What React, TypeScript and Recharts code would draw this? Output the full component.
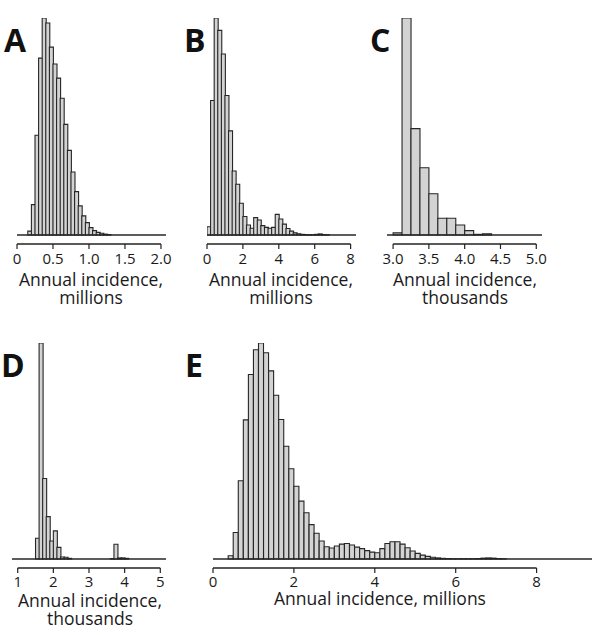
import React from 'react';
import { BarChart, Bar, XAxis, YAxis, ReferenceLine } from 'recharts';

// each histogram: left edge of the first bin, bin width, relative bar heights (tallest = 1)
const aStart = 0.15;
const aBin = 0.05;
const aHeights = [0.018, 0.14, 0.46, 0.815, 1.0, 0.977, 0.866, 0.788, 0.723, 0.63, 0.51, 0.39, 0.29, 0.2, 0.134, 0.088, 0.057, 0.034, 0.02, 0.012, 0.008, 0.004, 0.002];
const aTicks = [0, 0.5, 1, 1.5, 2];

const bStart = 0;
const bBin = 0.2;
const bHeights = [0.038, 0.62, 1.0, 0.943, 0.834, 0.643, 0.48, 0.295, 0.234, 0.146, 0.085, 0.046, 0.031, 0.08, 0.069, 0.043, 0.035, 0.031, 0.035, 0.095, 0.074, 0.05, 0.03, 0.018, 0.01, 0.006, 0.003, 0.002, 0.001, 0.001, 0.003, 0.005, 0.002, 0.001];
const bTicks = [0, 2, 4, 6, 8];

const cStart = 3.0;
const cBin = 0.125;
const cHeights = [0.01, 1.0, 0.49, 0.31, 0.19, 0.077, 0.077, 0.046, 0.02, 0.003, 0.006];
const cTicks = [3, 3.5, 4, 4.5, 5];

const dStart = 1.5;
const dBin = 0.1;
const dHeights = [0.096, 1.0, 0.373, 0.196, 0.083, 0.13, 0.054, 0.009, 0.008, 0.003, 0, 0, 0, 0, 0, 0, 0, 0, 0, 0, 0, 0.002, 0.068, 0.005, 0.005, 0.003];
const dTicks = [1, 2, 3, 4, 5];

const eStart = 0.375;
const eBin = 0.125;
const eHeights = [0.015, 0.123, 0.362, 0.644, 0.854, 0.969, 1.0, 0.955, 0.871, 0.758, 0.646, 0.522, 0.418, 0.337, 0.268, 0.214, 0.159, 0.119, 0.083, 0.057, 0.051, 0.06, 0.069, 0.072, 0.065, 0.055, 0.048, 0.039, 0.032, 0.029, 0.048, 0.072, 0.08, 0.08, 0.069, 0.052, 0.037, 0.026, 0.018, 0.012, 0.008, 0.005, 0.003, 0.002, 0.001, 0.001, 0.001, 0.001, 0.001, 0.002, 0.004, 0.005, 0.004, 0.002, 0.001];
const eTicks = [0, 2, 4, 6, 8];

const toBins = (start: number, bin: number, heights: number[]) =>
  heights.map((v, i) => ({ x: start + (i + 0.5) * bin, v }));

const FONT = '"Open Sans", sans-serif';

interface HistProps {
  data: { x: number; v: number }[];
  ticks: number[];
  domain: [number, number];
  fmt: (v: number) => string;
  x0: number; // plot left, px
  x1: number; // plot right, px
  top: number; // chart top, px
  plotTop: number;
  baseline: number;
  axisY: number;
  tickGap?: number;
}

const Hist = ({ data, ticks, domain, fmt, x0, x1, top, plotTop, baseline, axisY, tickGap = 4 }: HistProps) => {
  const h = 300;
  // room between the bar baseline and the axis line, in y units
  const below = (axisY - baseline) / (baseline - plotTop);
  return (
    <div style={{ position: 'absolute', left: x0 - 10, top }}>
      <BarChart
        width={x1 - x0 + 20}
        height={h}
        data={data}
        margin={{ top: plotTop - top, right: 10, left: 10, bottom: h - (axisY - top) - 30 }}
        barCategoryGap={0}
        barGap={0}
        style={{ fontFamily: FONT }}
      >
        <XAxis
          dataKey="x"
          type="number"
          domain={domain}
          allowDataOverflow
          ticks={ticks}
          interval={0}
          tickFormatter={fmt}
          axisLine={false}
          tickLine={{ stroke: '#222', strokeWidth: 1.2 }}
          tickSize={5}
          tickMargin={tickGap}
          tick={{ fontSize: 15, fill: '#1a1a1a', fontFamily: FONT }}
        />
        <YAxis hide domain={[-below, 1]} allowDataOverflow />
        <Bar dataKey="v" fill="#d3d3d3" stroke="#262626" strokeWidth={1.1} isAnimationActive={false} />
        <ReferenceLine y={0} stroke="#262626" strokeWidth={1.3} />
        <ReferenceLine
          segment={[{ x: ticks[0], y: -below }, { x: ticks[ticks.length - 1], y: -below }]}
          stroke="#222"
          strokeWidth={1.3}
          ifOverflow="visible"
        />
      </BarChart>
    </div>
  );
};

const letterStyle = (left: number, top: number): React.CSSProperties => ({
  position: 'absolute', left, top, fontFamily: FONT, fontWeight: 700, fontSize: 32, lineHeight: '32px', color: '#111',
});

const titleStyle = (cx: number, top: number, w = 200): React.CSSProperties => ({
  position: 'absolute', left: cx - w / 2, top, width: w, textAlign: 'center',
  fontFamily: FONT, fontSize: 17.5, lineHeight: '18px', color: '#1a1a1a',
});

const fmtDec = (v: number) => (v === 0 ? '0' : v.toFixed(1));
const fmtInt = (v: number) => String(v);

export default function App() {
  return (
    <div style={{ position: 'absolute', left: 0, top: 0, width: 600, height: 635, background: '#fff', overflow: 'hidden' }}>
      <Hist data={toBins(aStart, aBin, aHeights)} ticks={aTicks} domain={[0, 2.07]} fmt={fmtDec}
        x0={17} x1={166} top={0} plotTop={18} baseline={235} axisY={244} />
      <Hist data={toBins(bStart, bBin, bHeights)} ticks={bTicks} domain={[0, 8.3]} fmt={fmtInt}
        x0={207} x1={356} top={0} plotTop={18} baseline={235} axisY={244} />
      <Hist data={toBins(cStart, cBin, cHeights)} ticks={cTicks} domain={[2.915, 5.08]} fmt={(v) => v.toFixed(1)}
        x0={387} x1={542} top={0} plotTop={18} baseline={235} axisY={244} />
      <Hist data={toBins(dStart, dBin, dHeights)} ticks={dTicks} domain={[0.84, 5.16]} fmt={fmtInt}
        x0={12} x1={166} top={320} plotTop={343} baseline={559} axisY={568} tickGap={3} />
      <Hist data={toBins(eStart, eBin, eHeights)} ticks={eTicks} domain={[0, 9.37]} fmt={fmtInt}
        x0={213} x1={592} top={320} plotTop={343} baseline={559} axisY={568} tickGap={3} />

      <div style={letterStyle(4, 24)}>A</div>
      <div style={letterStyle(184, 24)}>B</div>
      <div style={letterStyle(370, 24)}>C</div>
      <div style={letterStyle(1, 349)}>D</div>
      <div style={letterStyle(185, 349)}>E</div>

      <div style={titleStyle(91, 270)}>Annual incidence,<br />millions</div>
      <div style={titleStyle(281, 270)}>Annual incidence,<br />millions</div>
      <div style={titleStyle(465, 270)}>Annual incidence,<br />thousands</div>
      <div style={titleStyle(90, 591)}>Annual incidence,<br />thousands</div>
      <div style={titleStyle(380, 589, 240)}>Annual incidence, millions</div>
    </div>
  );
}
